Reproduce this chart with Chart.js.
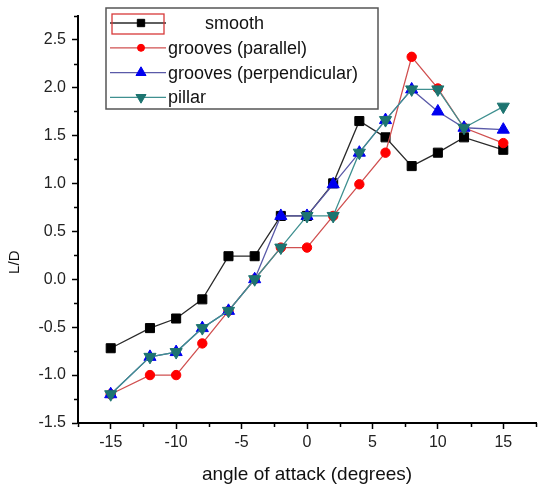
<!DOCTYPE html>
<html>
<head>
<meta charset="utf-8">
<title>L/D vs angle of attack</title>
<script src="https://cdn.jsdelivr.net/npm/chart.js@4.4.0/dist/chart.umd.min.js"></script>
<style>
  html, body { margin: 0; padding: 0; background: #fff; }
  #wrap { position: relative; width: 544px; height: 490px; }
</style>
</head>
<body>
<div id="wrap"><canvas id="ldChart"></canvas></div>
<script>
// angle of attack (degrees)
const angles = [-15, -12, -10, -8, -6, -4, -2, 0, 2, 4, 6, 8, 10, 12, 15];

// L/D for each surface
const smooth          = [-0.72, -0.51, -0.41, -0.21, 0.24, 0.24, 0.66, 0.66, 1.00, 1.65, 1.48, 1.18, 1.32, 1.48, 1.35];
const groovesParallel = [-1.20, -1.00, -1.00, -0.67, -0.33, 0.00, 0.33, 0.33, 0.66, 0.99, 1.32, 2.32, 1.99, 1.58, 1.42];
const groovesPerp     = [-1.20, -0.81, -0.76, -0.51, -0.33, 0.00, 0.66, 0.66, 0.99, 1.32, 1.66, 1.98, 1.75, 1.58, 1.56];
const pillar          = [-1.20, -0.81, -0.76, -0.51, -0.33, 0.00, 0.33, 0.66, 0.66, 1.32, 1.66, 1.98, 1.98, 1.58, 1.80];

// axis ticks
const xTicks = [-15, -10, -5, 0, 5, 10, 15];
const xMinorTicks = [-17.5, -12.5, -7.5, -2.5, 2.5, 7.5, 12.5, 17.5];
const yTicks = [-1.5, -1.0, -0.5, 0.0, 0.5, 1.0, 1.5, 2.0, 2.5];
const yMinorTicks = [-1.25, -0.75, -0.25, 0.25, 0.75, 1.25, 1.75, 2.25, 2.75];

const FONT = "'Liberation Sans', Arial, sans-serif";

const toPoints = vals => vals.map((v, i) => ({ x: angles[i], y: v }));

function series(label, vals, line, marker, style, radius, order, rotation) {
  return {
    label: label,
    data: toPoints(vals),
    borderColor: line,
    borderWidth: 1.3,
    pointBackgroundColor: marker,
    pointBorderColor: marker,
    pointBorderWidth: 1,
    pointStyle: style,
    pointRadius: radius,
    pointRotation: rotation || 0,
    pointHoverRadius: radius,
    tension: 0,
    fill: false,
    order: order
  };
}

// small outward ticks between the labelled ones, plus the y title
const minorTickPlugin = {
  id: 'minorTicks',
  afterDraw(chart) {
    const { ctx, chartArea } = chart;
    const xs = chart.scales.x, ys = chart.scales.y;
    ctx.save();
    ctx.strokeStyle = '#000';
    ctx.lineWidth = 1.5;
    ctx.beginPath();
    xMinorTicks.forEach(v => {
      const px = Math.round(xs.getPixelForValue(v)) + 0.5;
      ctx.moveTo(px, chartArea.bottom);
      ctx.lineTo(px, chartArea.bottom + 4);
    });
    yMinorTicks.forEach(v => {
      const py = Math.round(ys.getPixelForValue(v)) + 0.5;
      ctx.moveTo(chartArea.left, py);
      ctx.lineTo(chartArea.left - 4, py);
    });
    ctx.stroke();

    ctx.fillStyle = '#111';
    ctx.font = '15px ' + FONT;
    ctx.textAlign = 'center';
    ctx.textBaseline = 'middle';
    ctx.translate(15, ys.getPixelForValue(0) - 17);
    ctx.rotate(-Math.PI / 2);
    ctx.fillText('L/D', 0, 0);
    ctx.restore();
  }
};

// boxed legend in the upper left of the plot
const boxLegendPlugin = {
  id: 'boxLegend',
  afterDraw(chart) {
    const { ctx } = chart;
    const left = 106, top = 8, right = 378, bottom = 109;
    ctx.save();
    ctx.fillStyle = '#fff';
    ctx.fillRect(left, top, right - left, bottom - top);
    ctx.strokeStyle = '#555';
    ctx.lineWidth = 1.5;
    ctx.strokeRect(left, top, right - left, bottom - top);

    ctx.font = '18px ' + FONT;
    ctx.textBaseline = 'middle';
    ctx.textAlign = 'left';
    chart.data.datasets.forEach((ds, i) => {
      const cy = top + 15 + i * 24.8;
      ctx.strokeStyle = ds.borderColor;
      ctx.lineWidth = 1.3;
      ctx.beginPath();
      ctx.moveTo(110, cy);
      ctx.lineTo(166, cy);
      ctx.stroke();

      ctx.fillStyle = ds.pointBackgroundColor;
      ctx.strokeStyle = ds.pointBorderColor;
      ctx.lineWidth = 1;
      Chart.helpers.drawPoint(ctx, {
        pointStyle: ds.pointStyle,
        rotation: ds.pointRotation,
        radius: ds.pointRadius - 1.2,
        borderWidth: 1
      }, 141, cy);

      ctx.fillStyle = '#111';
      ctx.fillText(ds.label, i === 0 ? 205 : 168, cy + 1);
    });

    // frame round the first key
    ctx.strokeStyle = '#d83a3a';
    ctx.lineWidth = 1.3;
    ctx.strokeRect(112, 14, 52, 20);
    ctx.restore();
  }
};

const ctx = document.getElementById('ldChart').getContext('2d');

const ldChart = new Chart(ctx, {
  type: 'line',
  data: {
    datasets: [
      series('smooth', smooth, '#2a2a2a', '#000000', 'rect', 6.4, 4),
      series('grooves (parallel)', groovesParallel, '#d05050', '#ff0000', 'circle', 4.7, 3),
      series('grooves (perpendicular)', groovesPerp, '#5a5aa8', '#0000f0', 'triangle', 7, 2),
      series('pillar', pillar, '#3f9090', '#1d7470', 'triangle', 7, 1, 180)
    ]
  },
  options: {
    responsive: true,
    maintainAspectRatio: false,
    animation: false,
    events: [],
    layout: { padding: { top: 15, right: 0, left: 0, bottom: 0 } },
    plugins: {
      legend: { display: false },
      tooltip: { enabled: false }
    },
    scales: {
      x: {
        type: 'linear',
        min: -17.5,
        max: 17.5,
        afterBuildTicks: s => { s.ticks = xTicks.map(v => ({ value: v })); },
        afterFit: s => { s.height = 67; },
        ticks: {
          includeBounds: false,
          autoSkip: false,
          maxRotation: 0,
          padding: 4,
          color: '#222',
          font: { family: FONT, size: 16 },
          callback: v => String(v)
        },
        grid: {
          drawOnChartArea: false,
          drawTicks: true,
          tickLength: 6,
          tickWidth: 1.5,
          tickColor: '#000'
        },
        border: { display: true, color: '#000', width: 2 },
        title: {
          display: true,
          text: 'angle of attack (degrees)',
          color: '#111',
          font: { family: FONT, size: 19 },
          padding: { top: 0, bottom: 4 }
        }
      },
      y: {
        type: 'linear',
        min: -1.5,
        max: 2.75,
        afterBuildTicks: s => { s.ticks = yTicks.map(v => ({ value: v })); },
        afterFit: s => { s.width = 78; },
        ticks: {
          includeBounds: false,
          autoSkip: false,
          padding: 6,
          color: '#222',
          font: { family: FONT, size: 16 },
          callback: v => Number(v).toFixed(1)
        },
        grid: {
          drawOnChartArea: false,
          drawTicks: true,
          tickLength: 6,
          tickWidth: 1.5,
          tickColor: '#000'
        },
        border: { display: true, color: '#000', width: 2 }
      }
    }
  },
  plugins: [minorTickPlugin, boxLegendPlugin]
});
</script>
</body>
</html>
